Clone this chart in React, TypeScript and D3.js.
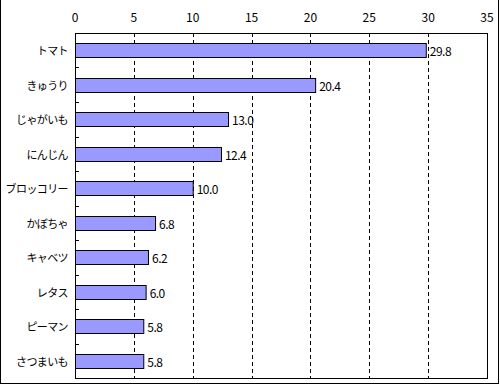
import * as d3 from 'd3';

const W = 500;
const H = 385;
const MARGIN = { top: 33, right: 13, bottom: 5, left: 75 };

const categories = ['トマト', 'きゅうり', 'じゃがいも', 'にんじん', 'ブロッコリー', 'かぼちゃ', 'キャベツ', 'レタス', 'ピーマン', 'さつまいも'];
const values = [29.8, 20.4, 13.0, 12.4, 10.0, 6.8, 6.2, 6.0, 5.8, 5.8];
const xTicks = [0, 5, 10, 15, 20, 25, 30, 35];

const FONT = '"Noto Sans CJK JP", "Noto Sans", sans-serif';

export default function App() {
  const boundsWidth = W - MARGIN.left - MARGIN.right;
  const boundsHeight = H - MARGIN.top - MARGIN.bottom - 2;

  const xScale = d3.scaleLinear().domain([0, 35]).range([0, boundsWidth]);
  const yScale = d3
    .scaleBand<string>()
    .domain(categories)
    .range([0, boundsHeight])
    .paddingInner(0.6)
    .paddingOuter(0.3);

  const step = yScale.step();
  const bw = yScale.bandwidth();

  return (
    <div>
      <style>{'body{margin:0}'}</style>
      <svg width={W} height={H} style={{ display: 'block' }}>
        <rect x={0} y={0} width={W} height={H} fill="white" />
        {/* outer frame */}
        <line x1={0.5} y1={0} x2={0.5} y2={384} stroke="black" />
        <line x1={498.5} y1={0} x2={498.5} y2={384} stroke="black" />
        <line x1={0} y1={383.5} x2={499} y2={383.5} stroke="black" />
        <g transform={`translate(${MARGIN.left},${MARGIN.top})`}>
          {/* grid */}
          {xTicks.slice(1, -1).map((t) => (
            <line
              key={t}
              x1={Math.round(xScale(t)) + 0.5}
              x2={Math.round(xScale(t)) + 0.5}
              y1={0}
              y2={boundsHeight}
              stroke="black"
              strokeDasharray="4,3"
            />
          ))}
          {/* tick labels */}
          {xTicks.map((t) => (
            <text
              key={t}
              x={xScale(t)}
              y={-17}
              textAnchor="middle"
              dominantBaseline="central"
              fontSize={12}
              fontFamily={FONT}
            >
              {t}
            </text>
          ))}
          {/* bars */}
          {categories.map((c, i) => {
            const y = Math.round(yScale(c)!) + 0.5;
            const w = xScale(values[i]);
            return (
              <g key={c}>
                <rect x={0.5} y={y} width={w} height={Math.round(bw)} fill="#9999FF" stroke="black" />
                <text
                  x={w + 4}
                  y={y + bw / 2}
                  dominantBaseline="central"
                  fontSize={12}
                  fontFamily={FONT}
                  letterSpacing={-0.5}
                >
                  {values[i].toFixed(1)}
                </text>
                <text
                  x={-7}
                  y={y + bw / 2}
                  textAnchor="end"
                  dominantBaseline="central"
                  fontSize={11}
                  letterSpacing={-0.6}
                  fontFamily={FONT}
                >
                  {c}
                </text>
              </g>
            );
          })}
          {/* category separator ticks */}
          {categories.slice(1).map((c, i) => {
            const yy = Math.round(yScale(c)! - (step - bw) / 2) + 0.5;
            return <line key={i} x1={0} x2={4} y1={yy} y2={yy} stroke="black" />;
          })}
          {/* plot frame */}
          <rect x={0.5} y={0.5} width={boundsWidth} height={boundsHeight} fill="none" stroke="black" />
        </g>
      </svg>
    </div>
  );
}
